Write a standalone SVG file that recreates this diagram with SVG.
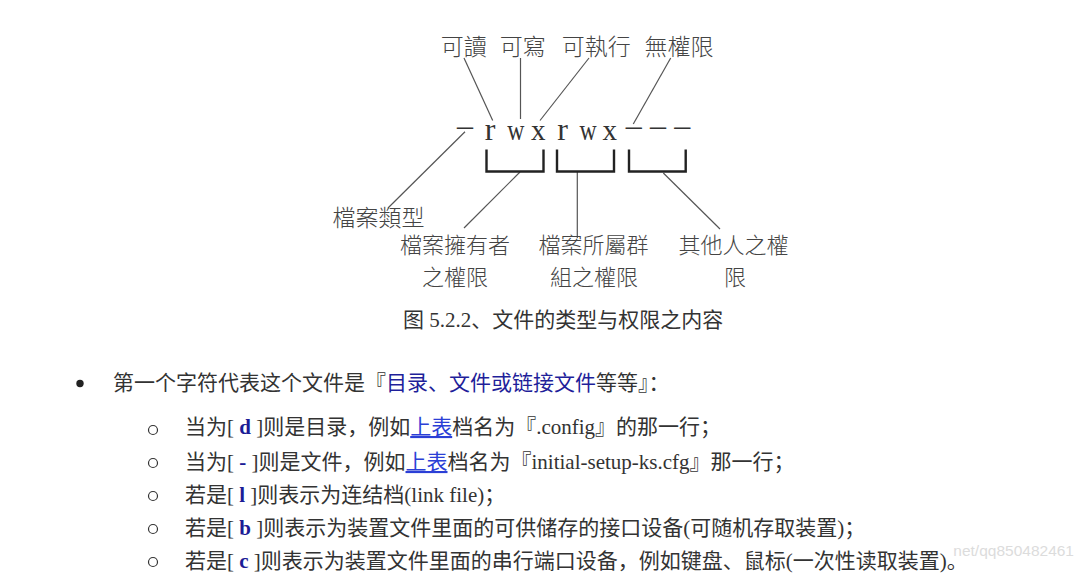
<svg xmlns="http://www.w3.org/2000/svg" width="1079" height="577" viewBox="0 0 1079 577">
<style>
.cjk{font-family:"Noto Sans CJK TC","Noto Sans CJK SC",sans-serif;font-size:23px;fill:#444;font-weight:300}
.cjk2{font-family:"Noto Sans CJK TC","Noto Sans CJK SC",sans-serif;font-size:22px;fill:#444;font-weight:300}
.perm{font-family:"Liberation Serif",serif;fill:#333}
.cap{font-family:"Liberation Serif","Noto Sans CJK SC",serif;font-size:21px;fill:#333}
.body{font-family:"Liberation Serif","Noto Sans CJK SC",serif;font-size:21px;fill:#333}
.kw{font-weight:bold;fill:#1c1c96}
.blue{fill:#1f1f9a}
.link{fill:#2b3fd6;text-decoration:underline}
.wm{font-family:"Liberation Sans",sans-serif;font-size:15.5px;fill:#dcdcdc}
.thin{stroke:#555;stroke-width:1.2;fill:none}
.brk{stroke:#222;stroke-width:2.4;fill:none}
.sub{fill:none;stroke:#333;stroke-width:1.2}
</style>
<rect width="1079" height="577" fill="#fff"/>
<text class="wm" x="1074" y="556" text-anchor="end">net/qq850482461</text>
<g id="connectors">
<line class="thin" x1="464" y1="58" x2="492.7" y2="120.5"/>
<line class="thin" x1="520.5" y1="58" x2="520.5" y2="119"/>
<line class="thin" x1="589" y1="58" x2="540" y2="120.5"/>
<line class="thin" x1="670.7" y1="58" x2="633.3" y2="124"/>
<line class="thin" x1="465" y1="131.7" x2="388" y2="208"/>
<line class="thin" x1="520" y1="172" x2="464" y2="228"/>
<line class="thin" x1="577.3" y1="172" x2="577.3" y2="238"/>
<line class="thin" x1="663.3" y1="173" x2="720" y2="229"/>
</g>
<g id="lbl-read"><text class="cjk" x="463.7" y="54.5" text-anchor="middle">可讀</text></g>
<g id="lbl-write"><text class="cjk" x="522.8" y="54.5" text-anchor="middle">可寫</text></g>
<g id="lbl-exec"><text class="cjk" x="596.3" y="54.5" text-anchor="middle">可執行</text></g>
<g id="lbl-none"><text class="cjk" x="679" y="54.5" text-anchor="middle">無權限</text></g>
<g id="perm-string">
<text class="perm" x="465" y="136" font-size="32" text-anchor="middle">–</text>
<text class="perm" x="490" y="139.5" font-size="32" text-anchor="middle">r</text>
<text class="perm" font-size="29" text-anchor="middle" transform="translate(515.7 139.5) scale(0.82 1)">w</text>
<text class="perm" x="538.3" y="139.5" font-size="29" text-anchor="middle">x</text>
<text class="perm" x="562.5" y="139.5" font-size="32" text-anchor="middle">r</text>
<text class="perm" font-size="29" text-anchor="middle" transform="translate(588 139.5) scale(0.82 1)">w</text>
<text class="perm" x="609.7" y="139.5" font-size="29" text-anchor="middle">x</text>
<text class="perm" x="633.8" y="136" font-size="32" text-anchor="middle">–</text>
<text class="perm" x="658" y="136" font-size="32" text-anchor="middle">–</text>
<text class="perm" x="682.3" y="136" font-size="32" text-anchor="middle">–</text>
</g>
<g id="brackets">
<polyline class="brk" points="486.5,149.5 486.5,171.5 543.5,171.5 543.5,149.5"/>
<polyline class="brk" points="557,149.5 557,171.5 614,171.5 614,149.5"/>
<polyline class="brk" points="629,149.5 629,171.5 685.7,171.5 685.7,149.5"/>
</g>
<g id="lbl-type"><text class="cjk" x="332.5" y="226">檔案類型</text></g>
<g id="lbl-owner"><text class="cjk2" x="455" y="252.5" text-anchor="middle">檔案擁有者</text><text class="cjk2" x="455" y="284.5" text-anchor="middle">之權限</text></g>
<g id="lbl-group"><text class="cjk2" x="593.5" y="253" text-anchor="middle">檔案所屬群</text><text class="cjk2" x="594" y="285" text-anchor="middle">組之權限</text></g>
<g id="lbl-other"><text class="cjk2" x="733.5" y="253" text-anchor="middle">其他人之權</text><text class="cjk2" x="735" y="285" text-anchor="middle">限</text></g>
<g id="caption"><text class="cap" x="403" y="327">图 5.2.2、文件的类型与权限之内容</text></g>
<g id="list">
<circle cx="80" cy="383.5" r="3.7" fill="#222"/>
<text class="body" x="113" y="390">第一个字符代表这个文件是『<tspan class="blue">目录、文件或链接文件</tspan>等等』：</text>
<circle class="sub" cx="153" cy="430" r="4.5"/>
<circle class="sub" cx="153" cy="463" r="4.5"/>
<circle class="sub" cx="153" cy="496" r="4.5"/>
<circle class="sub" cx="153" cy="529" r="4.5"/>
<circle class="sub" cx="153" cy="562" r="4.5"/>
<text class="body" x="185" y="434">当为[ <tspan class="kw">d</tspan> ]则是目录，例如<tspan class="link">上表</tspan>档名为『.config』的那一行；</text>
<text class="body" x="185" y="469">当为[ <tspan class="kw">-</tspan> ]则是文件，例如<tspan class="link">上表</tspan>档名为『initial-setup-ks.cfg』那一行；</text>
<text class="body" x="185" y="502">若是[ <tspan class="kw">l</tspan> ]则表示为连结档(link file)；</text>
<text class="body" x="185" y="535">若是[ <tspan class="kw">b</tspan> ]则表示为装置文件里面的可供储存的接口设备(可随机存取装置)；</text>
<text class="body" x="185" y="568">若是[ <tspan class="kw">c</tspan> ]则表示为装置文件里面的串行端口设备，例如键盘、鼠标(一次性读取装置)。</text>
</g>
</svg>
